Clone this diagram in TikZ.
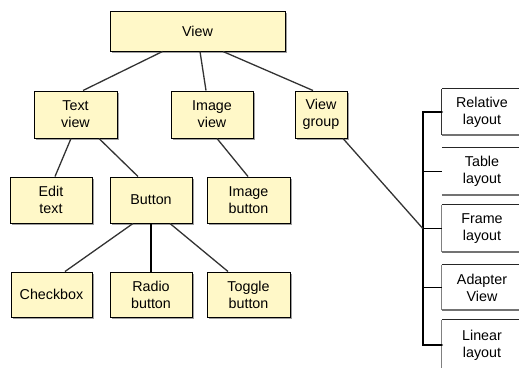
\documentclass[tikz,border=0pt]{standalone}
\usepackage{fontspec}
\setmainfont{Liberation Sans}
\usetikzlibrary{shadows}
\definecolor{boxfill}{HTML}{FFF8C8}
\definecolor{linkgray}{HTML}{333333}
\tikzset{
  cls/.style={draw=black, line width=1pt, fill=boxfill, align=center,
    font=\fontsize{14.3}{17}\selectfont, inner sep=0pt,
    drop shadow={shadow xshift=1.6pt, shadow yshift=-1.6pt, fill=gray!75, opacity=1}},
  layoutbox/.style={align=center, font=\fontsize{14.3}{17}\selectfont, inner sep=0pt,
    minimum width=80pt},
  link/.style={draw=linkgray, line width=1.3pt},
  strong/.style={draw=black, line width=2.4pt},
  topedge/.style={draw=black!85, line width=1.1pt},
  bottomedge/.style={draw=black!55, line width=1.8pt},
  leftedge/.style={draw=black!50, line width=0.9pt},
}
\begin{document}
\begin{tikzpicture}[x=1pt,y=-1pt]
\useasboundingbox (0,0) rectangle (519,367);

% class hierarchy boxes
\node[cls, minimum width=175pt, minimum height=40pt] (view) at (197.5,31) {View};

\node[cls, minimum width=83pt, minimum height=47pt] (textview) at (75.5,114.5) {Text\\view};
\node[cls, minimum width=82pt, minimum height=47pt] (imageview) at (212,114.5) {Image\\view};
\node[cls, minimum width=52pt, minimum height=47pt] (viewgroup) at (321,114.5) {View\\group};

\node[cls, minimum width=82pt, minimum height=46pt] (edittext) at (51,200) {Edit\\text};
\node[cls, minimum width=82pt, minimum height=46pt] (button) at (151,200) {Button};
\node[cls, minimum width=83pt, minimum height=46pt] (imagebutton) at (248.5,200) {Image\\button};

\node[cls, minimum width=81pt, minimum height=45pt] (checkbox) at (51.5,294.5) {Checkbox};
\node[cls, minimum width=82pt, minimum height=45pt] (radio) at (151,294.5) {Radio\\button};
\node[cls, minimum width=83pt, minimum height=45pt] (toggle) at (248.5,294.5) {Toggle\\button};

% inheritance links
\draw[link] ([xshift=-35pt]view.south) -- ([xshift=7.5pt]textview.north);
\draw[link] ([xshift=2.5pt]view.south) -- ([xshift=-6pt]imageview.north);
\draw[link] ([xshift=25.5pt]view.south) -- ([xshift=-8pt]viewgroup.north);
\draw[link] ([xshift=-4.5pt]textview.south) -- ([xshift=4pt]edittext.north);
\draw[link] ([xshift=23.5pt]textview.south) -- ([xshift=-13pt]button.north);
\draw[link] ([xshift=5pt]imageview.south) -- ([xshift=-0.5pt]imagebutton.north);
\draw[link] ([xshift=-18pt]button.south) -- ([xshift=13.5pt]checkbox.north);
\draw[strong] (button.south) -- (radio.north);
\draw[link] ([xshift=19pt]button.south) -- ([xshift=-20.5pt]toggle.north);

% layout classes on the right
\node[layoutbox, minimum height=46pt] (relative) at (482,112) {Relative\\layout};
\node[layoutbox, minimum height=47pt] (table) at (482,171.5) {Table\\layout};
\node[layoutbox, minimum height=47pt] (frame) at (482,228.5) {Frame\\layout};
\node[layoutbox, minimum height=45pt] (adapter) at (482,287.5) {Adapter\\View};
\node[layoutbox, minimum height=50pt] (linear) at (482,345) {Linear\\layout};

\foreach \b in {relative,table,frame,adapter,linear}{
  \draw[topedge] (\b.north west) -- (\b.north east);
}
\foreach \b in {relative,table,frame,adapter}{
  \draw[bottomedge] (\b.south west) -- (\b.south east);
}
\draw[draw=black!80, line width=1pt] (relative.north west) -- (relative.south west);
\foreach \b in {frame,adapter,linear}{
  \draw[leftedge] (\b.north west) -- (\b.south west);
}

% bus joining the layout classes
\coordinate (bustop) at ([xshift=-19pt]relative.west);
\draw[strong, line cap=round] (relative.west) -- (bustop) |- (linear.west);
\foreach \b in {table,frame,adapter}{
  \draw[draw=black, line width=1.3pt] (\b.west) -- (\b.west -| bustop);
}
\coordinate (busframe) at (frame.west -| bustop);
\draw[link] ([xshift=22pt]viewgroup.south) -- (busframe);
\end{tikzpicture}
\end{document}
